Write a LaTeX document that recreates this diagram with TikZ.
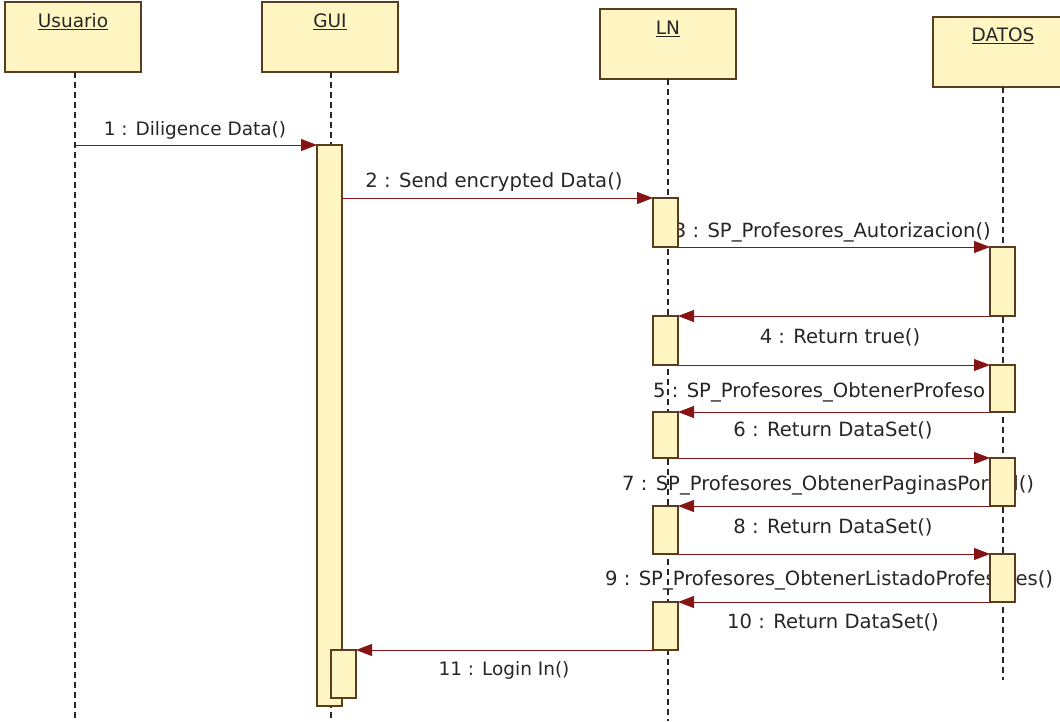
\documentclass[tikz,border=0pt]{standalone}
\usepackage{fontspec}
\setmainfont{DejaVu Sans}
\usetikzlibrary{arrows.meta}
\definecolor{boxfill}{RGB}{255,246,196}
\definecolor{boxline}{RGB}{90,60,30}
\definecolor{msgred}{RGB}{135,20,20}
\tikzset{
  head/.style={draw=boxline, line width=1.5pt, fill=boxfill, minimum width=136pt, minimum height=70pt, inner sep=0pt},
  headtxt/.style={font=\fontsize{18.5}{20}\selectfont, text=black!85, inner sep=0pt},
  act/.style={draw=boxline, line width=1.2pt, fill=boxfill, minimum width=25pt, inner sep=0pt, outer sep=0pt, anchor=north},
  lifeline/.style={draw=black!85, line width=1.5pt, dash pattern=on 6pt off 4pt},
  msg/.style={draw=msgred, line width=1pt, -{Triangle[length=16pt, width=12pt, fill=msgred]}},
  lbl/.style={font=\fontsize{19.6}{21}\selectfont, text=black!85, inner sep=0pt},
  lbls/.style={font=\fontsize{18.5}{20}\selectfont, text=black!85, inner sep=0pt}
}
\begin{document}
\begin{tikzpicture}[x=1pt, y=-1pt]
\useasboundingbox (0,0) rectangle (1060,721);
% headers
\node[head] (u) at (73,37) {};
\node[head] (g) at (330,37) {};
\node[head] (l) at (668,44) {};
\node[head, minimum width=140pt] (d) at (1003,52) {};
\node[headtxt] (ut) at (73,22) {\underline{Usuario}};
\node[headtxt] (gt) at (330,22) {\underline{GUI}};
\node[headtxt] (lt) at (668,29) {\underline{LN}};
\node[headtxt] (dt) at (1003,36) {\underline{DATOS}};
% lifeline ends
\coordinate (ue) at (75,721);
\coordinate (ge) at (331,721);
\coordinate (le) at (668,721);
\coordinate (de) at (1003,680);
\coordinate (um) at (75,145);
\draw[lifeline] (75,72) -- (ue);
\draw[lifeline] (331,72) -- (ge);
\draw[lifeline] (668,79) -- (le);
\draw[lifeline] (1003,87) -- (de);
% labels
\node[lbls] (m1) at (195,130) {1 : Diligence Data()};
\node[lbl] (m2) at (494,182) {2 : Send encrypted Data()};
\node[lbl, anchor=east] (m3) at (991,232) {3 : SP\_Profesores\_Autorizacion()};
\node[lbl] (m4) at (840,337) {4 : Return true()};
\node[lbl, anchor=west] (m5) at (653,392) {5 : SP\_Profesores\_ObtenerProfeso};
\node[lbl] (m6) at (833,430) {6 : Return DataSet()};
\node[lbl, anchor=west] (m7) at (622,485) {7 : SP\_Profesores\_ObtenerPaginasPorRol()};
\node[lbl] (m8) at (833,527) {8 : Return DataSet()};
\node[lbl, anchor=west] (m9) at (605,580) {9 : SP\_Profesores\_ObtenerListadoProfesores()};
\node[lbl] (m10) at (833,622) {10 : Return DataSet()};
\node[lbls] (m11) at (504,670) {11 : Login In()};
% activations
\node[act, minimum height=561pt] (g1) at (329.5,145) {};
\node[act, minimum height=49pt] (l1) at (665.5,198) {};
\node[act, minimum height=69pt] (d1) at (1002.5,247) {};
\node[act, minimum height=49pt] (l2) at (665.5,316) {};
\node[act, minimum height=47pt] (d2) at (1002.5,365) {};
\node[act, minimum height=46pt] (l3) at (665.5,412) {};
\node[act, minimum height=48pt] (d3) at (1002.5,458) {};
\node[act, minimum height=48pt] (l4) at (665.5,506) {};
\node[act, minimum height=48pt] (d4) at (1002.5,554) {};
\node[act, minimum height=48pt] (l5) at (665.5,602) {};
\node[act, minimum height=48pt] (g2) at (343.5,650) {};
% messages
\draw[msg] (um) -- (g1.north west);
\draw[msg] (g1.east |- l1.north) -- (l1.north west);
\draw[msg] (l1.south east) -- (d1.north west);
\draw[msg] (d1.south west) -- (l2.north east);
\draw[msg] (l2.south east) -- (d2.north west);
\draw[msg] (d2.south west) -- (l3.north east);
\draw[msg] (l3.south east) -- (d3.north west);
\draw[msg] (d3.south west) -- (l4.north east);
\draw[msg] (l4.south east) -- (d4.north west);
\draw[msg] (d4.south west) -- (l5.north east);
\draw[msg] (l5.south west) -- (g2.north east);
\end{tikzpicture}
\end{document}
